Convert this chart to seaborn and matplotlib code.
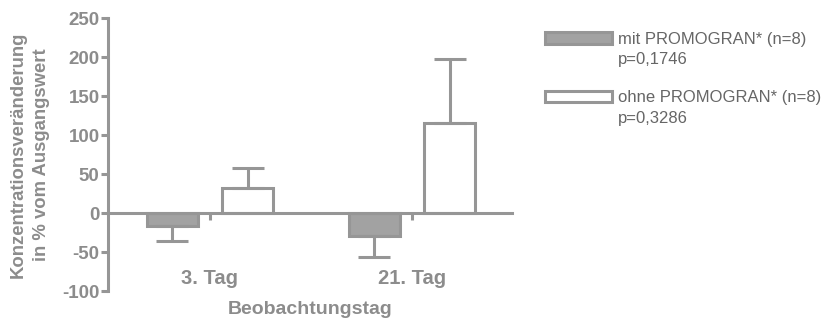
import seaborn as sns
import pandas as pd
import matplotlib.pyplot as plt

# data
days = ['3. Tag', '21. Tag']
groups = ['mit PROMOGRAN* (n=8)', 'ohne PROMOGRAN* (n=8)']
pvals = ['p=0,1746', 'p=0,3286']
mit_mean = [-17, -29]
mit_sd = [19, 28]
ohne_mean = [32, 116]
ohne_sd = [26, 82]

gray = '#969696'
txt = '#8c8c8c'

df = pd.DataFrame({
    'tag': days * 2,
    'gruppe': [groups[0]] * 2 + [groups[1]] * 2,
    'wert': mit_mean + ohne_mean,
})
sds = mit_sd + ohne_sd

sns.set_style('white')
plt.rcParams['font.family'] = ['Liberation Sans', 'DejaVu Sans']
plt.rcParams['axes.unicode_minus'] = False

fig = plt.figure(figsize=(8.3, 3.2), dpi=100)
ax = fig.add_axes([0.130, 0.0906, 0.487, 0.853])

sns.barplot(data=df, x='tag', y='wert', hue='gruppe', order=days,
            hue_order=groups, palette=['#a2a2a2', 'white'], width=0.744,
            gap=0.33, edgecolor=gray, linewidth=2.2, errorbar=None, ax=ax)

# one-sided error bars, placed on the drawn bars
bars = ax.patches[:4]
for p, sd in zip(bars, sds):
    xc = p.get_x() + p.get_width() / 2
    h = p.get_height()
    yerr = [[sd], [0]] if h < 0 else [[0], [sd]]
    ax.errorbar(xc, h, yerr=yerr, fmt='none', ecolor=gray, elinewidth=2.2,
                capsize=11.5, capthick=2.2, zorder=1)

ax.set_xlim(-0.505, 1.495)
ax.set_ylim(-100, 250)
ax.set_yticks(range(-100, 251, 50))

for s in ['top', 'right']:
    ax.spines[s].set_visible(False)
ax.spines['bottom'].set_position(('data', 0))
for s in ['bottom', 'left']:
    ax.spines[s].set_color(gray)
    ax.spines[s].set_linewidth(2.2)

ax.tick_params(axis='y', left=True, direction='out', length=5, width=2.2,
               color=gray, labelsize=13.5, labelcolor=txt, pad=1)
ax.tick_params(axis='x', bottom=True, direction='out', length=5, width=2.2,
               color=gray, labelsize=14.5, labelcolor=txt, pad=35)
for t in ax.get_xticklabels() + ax.get_yticklabels():
    t.set_fontweight('bold')

ax.set_xlabel('Beobachtungstag', fontsize=14, fontweight='bold', color=txt,
              labelpad=10)
ax.set_ylabel('Konzentrationsveränderung\nin % vom Ausgangswert', fontsize=13.3,
              fontweight='bold', color=txt, labelpad=9, linespacing=1.45)

leg = ax.legend(loc='upper left', bbox_to_anchor=(0.657, 0.90),
                bbox_transform=fig.transFigure, frameon=False, fontsize=12,
                handlelength=4.0, handleheight=0.72, handletextpad=0.35,
                labelspacing=2.6, borderpad=0, borderaxespad=0)
for t in leg.get_texts():
    t.set_color('#666666')

# p-values under each legend entry
fig.canvas.draw()
inv = fig.transFigure.inverted()
for t, pv in zip(leg.get_texts(), pvals):
    bb = t.get_window_extent()
    x0, y0 = inv.transform((bb.x0, bb.y0))
    fig.text(x0, y0 - 0.017, pv, fontsize=12, color='#666666', va='top', ha='left')

fig.savefig('out.png', dpi=100)
